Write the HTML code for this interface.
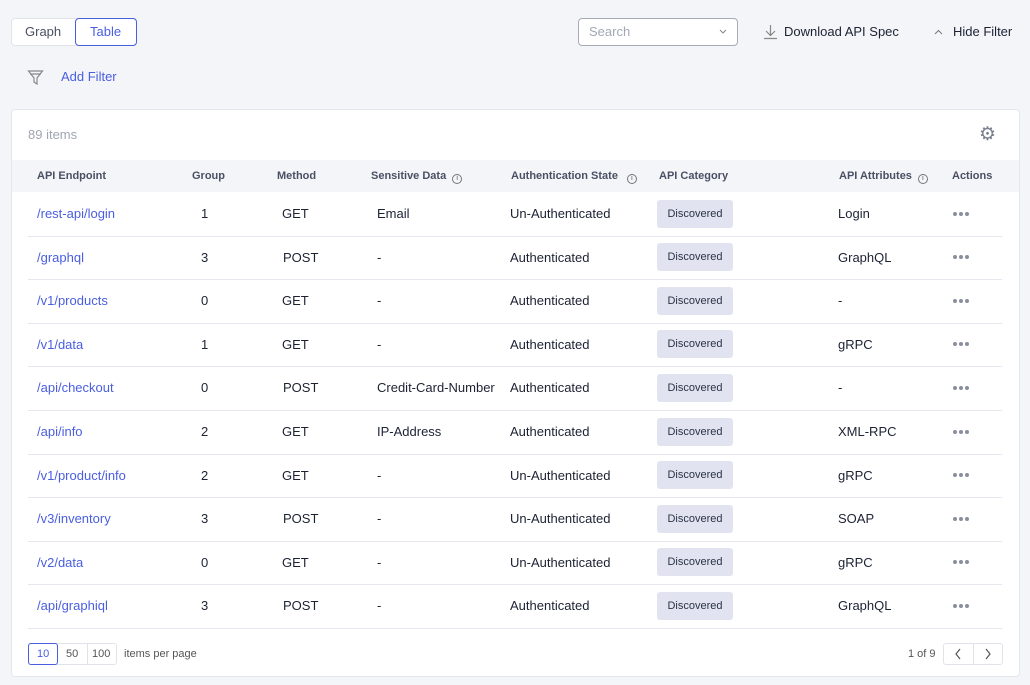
<!DOCTYPE html>
<html><head><meta charset="utf-8"><style>
*{box-sizing:border-box;margin:0;padding:0}
body{width:1030px;height:685px;background:#f4f5f9;font-family:"Liberation Sans",sans-serif;position:relative;overflow:hidden;color:#1d2233}
.a{position:absolute;white-space:nowrap}
.seg{left:11px;top:18px;width:126px;height:28px;border:1px solid #e1e3ea;border-radius:4px;background:#fff}
.card{left:11px;top:109px;width:1009px;height:568px;background:#fff;border:1px solid #e4e6ee;border-radius:4px}
.hdr{left:12px;top:160px;width:1007px;height:32px;background:#f4f5f9}
.h{font-size:11px;font-weight:bold;color:#4a5063;top:170px}
.c{font-size:13px}
.l{color:#4a5ee0}
.sep{left:28px;width:974px;height:1px;background:#e6e8ef}
.b{width:76px;height:28px;background:#e1e4f0;border-radius:3px;font-size:11px;text-align:center;line-height:28px;color:#2c3245}
.dots{width:16px;height:4px}
.dots i{display:inline-block;width:4px;height:4px;border-radius:50%;background:#8a8f9c;margin-right:2px;vertical-align:top}
.i{display:inline-block;width:10px;height:10px;border:1px solid #777;border-radius:50%;font-size:7px;line-height:8px;text-align:center;margin-left:6px;font-weight:normal;vertical-align:-1px;font-style:normal}
</style></head><body>
<div class="a seg"></div>
<div class="a c" style="left:25px;top:24px;color:#4a5063">Graph</div>
<div class="a" style="left:75px;top:18px;width:62px;height:28px;border:1px solid #4a5ee0;border-radius:4px;background:#fff"></div>
<div class="a c l" style="left:90px;top:24px">Table</div>
<div class="a" style="left:578px;top:18px;width:160px;height:28px;border:1px solid #a7abb8;border-radius:4px;background:#fff"></div>
<div class="a c" style="left:589px;top:24px;color:#a3a8b4">Search</div>
<svg class="a" style="left:719px;top:29px" width="8" height="6"><path d="M1 1L4 4L7 1" stroke="#888" fill="none"/></svg>
<svg class="a" style="left:763px;top:24px" width="15" height="16"><path d="M7.5 1V11M3 7L7.5 11.5L12 7M1 14.5H14" stroke="#888" fill="none" stroke-width="1.2"/></svg>
<div class="a c" style="left:784px;top:24px">Download API Spec</div>
<svg class="a" style="left:934px;top:29px" width="9" height="6"><path d="M1 5L4.5 1.5L8 5" stroke="#777" fill="none"/></svg>
<div class="a c" style="left:953px;top:24px">Hide Filter</div>
<svg class="a" style="left:27px;top:69px" width="17" height="17"><path d="M1.5 2H15.5L10 9V15L7 13V9Z M3 5H14" stroke="#888" fill="none" stroke-width="1.2"/></svg>
<div class="a c l" style="left:61px;top:69px">Add Filter</div>
<div class="a card"></div>
<div class="a c" style="left:28px;top:127px;color:#a0a5b1">89 items</div>
<div class="a" style="left:979px;top:123px;font-size:19px;color:#7a7f8e">&#9881;</div>
<div class="a hdr"></div>
<div class="a h" style="left:37px">API Endpoint</div>
<div class="a h" style="left:192px">Group</div>
<div class="a h" style="left:277px">Method</div>
<div class="a h" style="left:371px">Sensitive Data<i class="i">i</i></div>
<div class="a h" style="left:511px">Authentication State<i class="i" style="margin-left:9px">i</i></div>
<div class="a h" style="left:659px">API Category</div>
<div class="a h" style="left:839px">API Attributes<i class="i">i</i></div>
<div class="a h" style="left:952px">Actions</div>
<div id="rows"></div>
<script>
var d=[["/rest-api/login","1","GET","Email","Un-Authenticated","Login"],
["/graphql","3","POST","-","Authenticated","GraphQL"],
["/v1/products","0","GET","-","Authenticated","-"],
["/v1/data","1","GET","-","Authenticated","gRPC"],
["/api/checkout","0","POST","Credit-Card-Number","Authenticated","-"],
["/api/info","2","GET","IP-Address","Authenticated","XML-RPC"],
["/v1/product/info","2","GET","-","Un-Authenticated","gRPC"],
["/v3/inventory","3","POST","-","Un-Authenticated","SOAP"],
["/v2/data","0","GET","-","Un-Authenticated","gRPC"],
["/api/graphiql","3","POST","-","Authenticated","GraphQL"]];
var h="";
d.forEach(function(r,i){var y=213.5+i*43.6;var t=y-7.5;
h+='<div class="a c l" style="left:37px;top:'+t+'px">'+r[0]+'</div>';
h+='<div class="a c" style="left:201px;top:'+t+'px">'+r[1]+'</div>';
h+='<div class="a c" style="left:'+(r[2]=="GET"?282:283)+'px;top:'+t+'px">'+r[2]+'</div>';
h+='<div class="a c" style="left:377px;top:'+t+'px">'+r[3]+'</div>';
h+='<div class="a c" style="left:510px;top:'+t+'px">'+r[4]+'</div>';
h+='<div class="a b" style="left:657px;top:'+(y-14)+'px">Discovered</div>';
h+='<div class="a c" style="left:838px;top:'+t+'px">'+r[5]+'</div>';
h+='<div class="a dots" style="left:953px;top:'+(y-2)+'px"><i></i><i></i><i></i></div>';
h+='<div class="a sep" style="top:'+(y+22)+'px"></div>';});
document.getElementById("rows").innerHTML=h;
</script>
<div class="a" style="left:28px;top:643px;width:89px;height:22px;border:1px solid #e1e3ea;border-radius:3px"></div>
<div class="a" style="left:28px;top:643px;width:30px;height:22px;border:1px solid #4a5ee0;border-radius:3px"></div>
<div class="a" style="left:87px;top:643px;width:1px;height:22px;background:#e1e3ea"></div>
<div class="a l" style="left:37px;top:648px;font-size:11px">10</div>
<div class="a" style="left:66px;top:648px;font-size:11px;color:#555">50</div>
<div class="a" style="left:92px;top:648px;font-size:11px;color:#555">100</div>
<div class="a" style="left:124px;top:648px;font-size:11px;color:#555">items per page</div>
<div class="a" style="left:908px;top:648px;font-size:11px;color:#555">1 of 9</div>
<div class="a" style="left:943px;top:643px;width:60px;height:22px;border:1px solid #e1e3ea;border-radius:3px"></div>
<div class="a" style="left:973px;top:643px;width:1px;height:22px;background:#e1e3ea"></div>
<svg class="a" style="left:954px;top:648px" width="8" height="12"><path d="M6 1L2 6L6 11" stroke="#555" fill="none" stroke-width="1.2"/></svg>
<svg class="a" style="left:984px;top:648px" width="8" height="12"><path d="M2 1L6 6L2 11" stroke="#555" fill="none" stroke-width="1.2"/></svg>
</body></html>
